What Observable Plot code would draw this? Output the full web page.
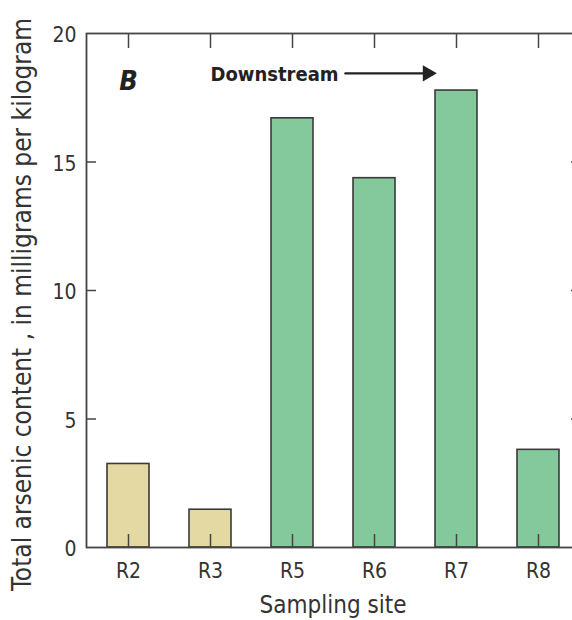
<!DOCTYPE html>
<html><head><meta charset="utf-8">
<script src="https://cdn.jsdelivr.net/npm/d3@7"></script>
<script src="https://cdn.jsdelivr.net/npm/@observablehq/plot@0.6"></script>
<style>body{margin:0;background:#fff;} #chart svg{display:block;}</style>
</head><body><div id="chart"></div>
<script>
// Data
const sites = ["R2", "R3", "R5", "R6", "R7", "R8"];
const arsenic = [3.25, 1.47, 16.7, 14.37, 17.78, 3.8];
const groups = ["upstream", "upstream", "downstream", "downstream", "downstream", "downstream"];
const yTicks = [0, 5, 10, 15, 20];
const yTitle = "Total arsenic content , in milligrams per kilogram";
const xTitle = "Sampling site";
const panelLabel = "B";
const arrowLabel = "Downstream";
const arrowY = 18.45;

const data = sites.map((s, i) => ({site: s, value: arsenic[i], group: groups[i]}));

const W = 572, H = 620, ML = 86, MR = -7, MT = 33, MB = 73;
const frameW = W - ML - MR, frameH = H - MT - MB;
const ink = "#3a3a3a";
const font = "'DejaVu Sans Condensed','DejaVu Sans',sans-serif";

const chart = Plot.plot({
  width: W, height: H,
  marginLeft: ML, marginRight: MR, marginTop: MT, marginBottom: MB,
  style: {fontFamily: font, fontSize: "21px", color: "#333", background: "#fff"},
  x: {type: "band", domain: sites, paddingInner: 0.49, paddingOuter: 0.245, label: null},
  y: {domain: [0, 20], label: null},
  color: {domain: ["upstream", "downstream"], range: ["#e4d9a2", "#83c99c"]},
  marks: [
    Plot.barY(data, {x: "site", y: "value", fill: "group", stroke: ink, strokeWidth: 1.6}),
    Plot.frame({stroke: "#444", strokeWidth: 1.8}),
    // inward ticks
    Plot.ruleY(yTicks.filter(t => t > 0 && t < 20), {y: d => d, stroke: "#444", strokeWidth: 1.5, insetRight: frameW - 10}),
    Plot.ruleY(yTicks.filter(t => t > 0 && t < 20), {y: d => d, stroke: "#444", strokeWidth: 1.5, insetLeft: frameW - 8}),
    Plot.ruleX(sites, {x: d => d, stroke: "#444", strokeWidth: 1.5, insetTop: frameH - 13}),
    Plot.ruleX(sites, {x: d => d, stroke: "#444", strokeWidth: 1.5, insetBottom: frameH - 15}),
    Plot.axisY({ticks: yTicks, tickSize: 0, tickPadding: 10, fontSize: 21, dy: 2, label: null}),
    Plot.axisX({tickSize: 0, tickPadding: 16, fontSize: 21, label: null}),
    Plot.text([yTitle], {text: d => d, frameAnchor: "left", textAnchor: "middle", rotate: -90, dx: -64, dy: 14, fontSize: 26, fill: "#333"}),
    Plot.text([xTitle], {text: d => d, frameAnchor: "bottom", dy: 65, fontSize: 24, fill: "#333"}),
    Plot.text([{site: "R2", label: panelLabel}], {x: "site", text: "label", frameAnchor: "top", dy: 37, fontSize: 27, fontWeight: "bold", fontStyle: "italic", fill: "#222"}),
    Plot.text([{site: "R3", label: arrowLabel}], {x: "site", text: "label", frameAnchor: "top", dy: 33, textAnchor: "start", fontSize: 20, fontWeight: "bold", fill: "#222"}),
    Plot.arrow([{from: "R5", to: "R7"}], {x1: "from", x2: "to", y1: () => arrowY, y2: () => arrowY, insetStart: 53, insetEnd: 27, headLength: 0, stroke: "#222", strokeWidth: 2.4}),
    Plot.dot([{site: "R7"}], {x: "site", y: () => arrowY, symbol: "triangle", rotate: 90, r: 6, dx: -29, fill: "#222", stroke: "none"})
  ]
});
document.getElementById("chart").appendChild(chart);
</script>
</body></html>
